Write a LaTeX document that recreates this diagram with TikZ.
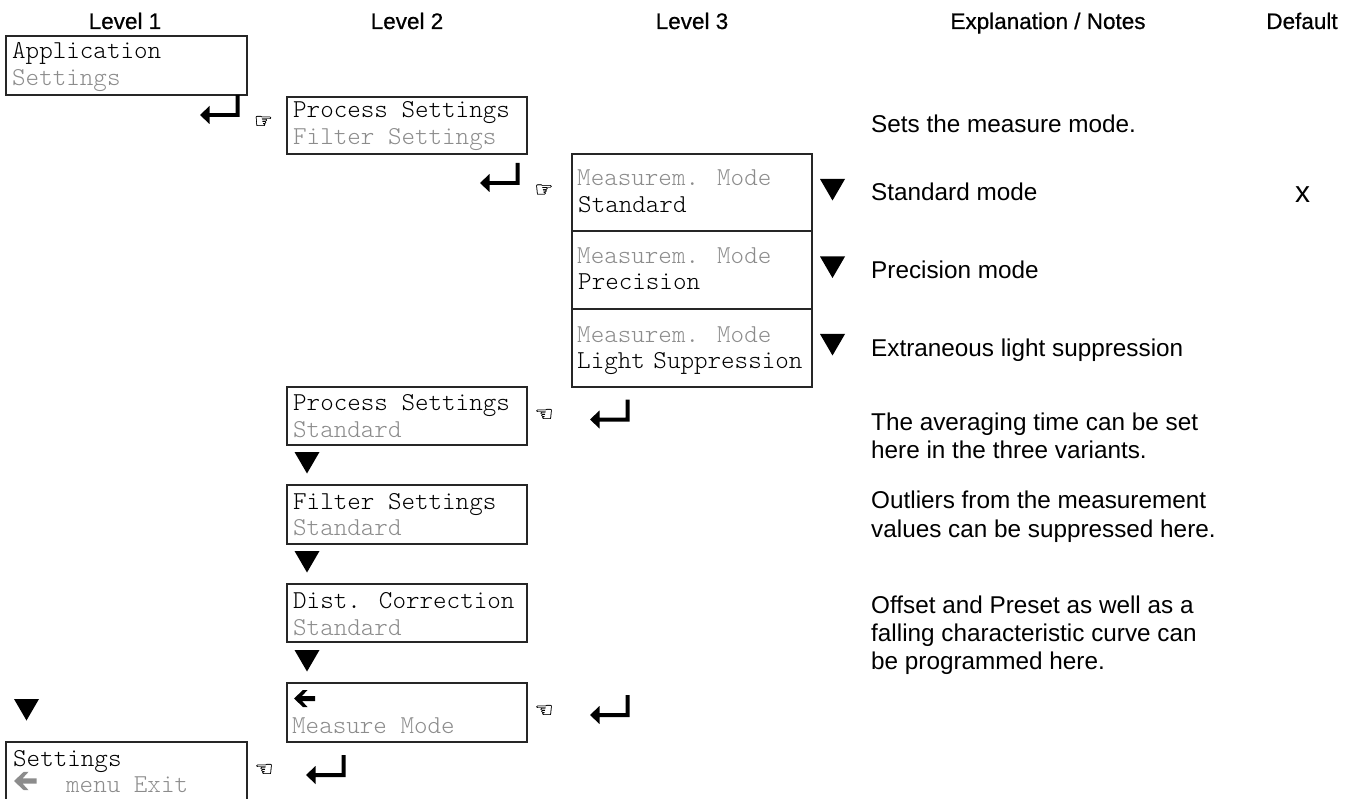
\documentclass[tikz,border=0pt]{standalone}
\usepackage{fontspec}
\setmainfont{Liberation Sans}
\newfontfamily\headfont[FakeBold=0.6]{Liberation Sans}
\newfontfamily\symfont[FakeBold=0.6]{DejaVu Sans}
\newfontfamily\lmono{Latin Modern Mono Light}
\definecolor{dim}{gray}{0.55}
\tikzset{
  x=1pt,y=-1pt,
  frame/.style={draw=black!85,line width=1.1pt},
  lcd/.style={anchor=base west,inner sep=0pt,font=\fontsize{25.8}{26}\lmono},
  dimmed/.style={lcd,text=dim},
  head/.style={anchor=base,inner sep=0pt,font=\fontsize{22.5}{23}\headfont},
  note/.style={anchor=base west,inner sep=0pt,font=\fontsize{24.3}{25}\selectfont},
  hand/.style={inner sep=0pt,font=\fontsize{21}{22}\symfont},
  pics/enter/.style={code={
    \fill (0,0) -- (0,-22) -- (-3.8,-22) -- (-3.8,-3.8) -- (-30,-3.8) -- (-30,-11) -- (-39.5,-2) -- (-30,7) -- (-30,0) -- cycle;
  }},
  pics/down/.style={code={
    \fill (-12.5,0) -- (12.5,0) -- (0,21.5) -- cycle;
  }},
  pics/back/.style={code={
    \fill (0,0) -- (9,-8.5) -- (13.5,-8.5) -- (8,-2.5) -- (21,-2.5) -- (21,2.5) -- (8,2.5) -- (13.5,8.5) -- (9,8.5) -- cycle;
  }},
}
\begin{document}
\begin{tikzpicture}
\useasboundingbox (0,0) rectangle (1354,799);
\clip (0,0) rectangle (1354,799);
% headers
\node[head] (h1) at (125,29) {Level 1};
\node[head] (h2) at (407,29) {Level 2};
\node[head] (h3) at (692,29) {Level 3};
\node[head] (h4) at (1048,29) {Explanation / Notes};
\node[head] (h5) at (1302,29) {Default};
% boxes
\draw[frame] (6,36) rectangle (247,95);
\draw[frame] (287,97) rectangle (527,154);
\draw[frame] (572,154) rectangle (812,387);
\draw[frame] (572,231) -- (812,231);
\draw[frame] (572,309) -- (812,309);
\draw[frame] (287,387) rectangle (527,445);
\draw[frame] (287,485) rectangle (527,544);
\draw[frame] (287,584) rectangle (527,642);
\draw[frame] (287,683) rectangle (527,742);
\draw[frame] (6,742) rectangle (247,810);
% box text
\node[lcd] (a1) at (12,59) {Application};
\node[dimmed] (a2) at (12,86) {Settings};
\node[lcd] (b1) at (293,118) {Process Settings};
\node[dimmed] (b2) at (293,144.5) {Filter Settings};
\node[dimmed] (c1) at (577,186) {Measurem. Mode};
\node[lcd] (c2) at (578,213) {Standard};
\node[dimmed] (c3) at (577,264) {Measurem. Mode};
\node[lcd] (c4) at (578,290) {Precision};
\node[dimmed] (c5) at (577,342) {Measurem. Mode};
\node[lcd] (c6) at (577,368) {Light\hspace{-5pt} Suppression};
\node[lcd] (d1) at (293,410) {Process Settings};
\node[dimmed] (d2) at (293,437) {Standard};
\node[lcd] (e1) at (293,509) {Filter Settings};
\node[dimmed] (e2) at (293,535) {Standard};
\node[lcd] (f1) at (293,608) {Dist. Correction};
\node[dimmed] (f2) at (293,635) {Standard};
\node[dimmed] (g2) at (292,733) {Measure Mode};
\node[lcd] (s1) at (13,766) {Settings};
\node[dimmed] (s2) at (66,792) {menu Exit};
% arrows inside boxes
\pic at (294,698.5) {back};
\pic[dim,scale=1.08] at (14,781) {back};
% enter arrows
\pic at (239.5,117) {enter};
\pic at (519.5,185) {enter};
\pic at (629.5,421.5) {enter};
\pic at (629.5,717) {enter};
\pic at (345.5,777) {enter};
% triangles
\pic at (832.5,179) {down};
\pic at (832.5,256.5) {down};
\pic at (832.5,334) {down};
\pic at (307,452) {down};
\pic at (307,551) {down};
\pic at (307,650) {down};
\pic at (26.5,699) {down};
% hands
\node[hand] (p1) at (263.5,122) {☞};
\node[hand] (p2) at (544,190.5) {☞};
\node[hand] (p3) at (544,415) {☜};
\node[hand] (p4) at (544,711) {☜};
\node[hand] (p5) at (264,770) {☜};
% notes
\node[note] (n1) at (871,132.5) {Sets the measure mode.};
\node[note] (n2) at (871,200.5) {Standard mode};
\node[note] (n3) at (871,278.5) {Precision mode};
\node[note] (n4) at (871,356) {Extraneous light suppression};
\node[note] (n5) at (871,430) {The averaging time can be set};
\node[note] (n6) at (871,458) {here in the three variants.};
\node[note] (n7) at (871,508.5) {Outliers from the measurement};
\node[note] (n8) at (871,537) {values can be suppressed here.};
\node[note] (n9) at (871,613) {Offset and Preset as well as a};
\node[note] (n10) at (871,641) {falling characteristic curve can};
\node[note] (n11) at (871,669) {be programmed here.};
\node[anchor=base,inner sep=0pt,font=\fontsize{30}{30}\selectfont] (x) at (1302.5,203) {x};
\end{tikzpicture}
\end{document}
